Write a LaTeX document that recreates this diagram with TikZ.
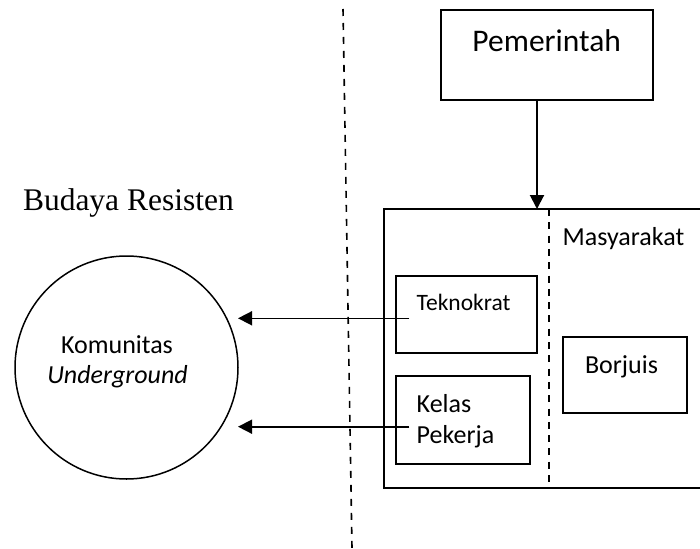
\documentclass[tikz,border=0pt]{standalone}
\usepackage{fontspec}
\setmainfont{Carlito}
\newfontfamily\serifface{Liberation Serif}
\usetikzlibrary{arrows.meta}

\begin{document}
\begin{tikzpicture}[x=1pt,y=-1pt,
  box/.style={draw, line width=2pt, rectangle, inner sep=0pt, outer sep=0pt},
  lbl/.style={inner sep=0pt, outer sep=0pt, anchor=base west},
  flow/.style={line width=1.6pt, -{Triangle[length=14pt,width=14pt]}},
  divider/.style={line width=1.6pt, dash pattern=on 7pt off 7pt},
  split/.style={line width=1.3pt, dash pattern=on 7pt off 6.3pt}]
  \useasboundingbox (0,0) rectangle (700,548);
  \clip (0,0) rectangle (700,548);

  % dashed boundary between the two sides
  \coordinate (div-top) at (343,9);
  \coordinate (div-bot) at (352,548);
  \draw[divider] (div-top) -- (div-bot);

  % left side
  \node[lbl, font=\serifface\fontsize{31.5}{36}\selectfont] (budaya) at (23,210.7) {Budaya Resisten};
  \node[draw, circle, line width=1.5pt, minimum size=223pt, inner sep=0pt, outer sep=0pt] (kom) at (126.5,367.5) {};
  \node[lbl, anchor=base, font=\fontsize{26}{30}\selectfont] (kom-a) at (117,353) {Komunitas};
  \node[lbl, anchor=base, font=\fontsize{26}{30}\selectfont\itshape] (kom-b) at (117.5,383) {Underground};

  % government
  \node[box, minimum width=212pt, minimum height=90pt] (pem) at (547,55) {};
  \node[lbl, anchor=base, font=\fontsize{31.5}{36}\selectfont] (pem-t) at (546.7,51.7) {Pemerintah};

  % society
  \node[box, minimum width=326pt, minimum height=279pt] (mas) at (547,348.5) {};
  \coordinate (split-top) at (549,209);
  \coordinate (split-bot) at (549,488);
  \draw[split] (split-top) -- (split-bot);
  \node[lbl, font=\fontsize{26}{30}\selectfont] (mas-t) at (562.7,245) {Masyarakat};

  \node[box, minimum width=141.3pt, minimum height=76.7pt] (tek) at (466.7,314.3) {};
  \node[lbl, font=\fontsize{23.5}{28}\selectfont] (tek-t) at (416.7,310) {Teknokrat};

  \node[box, minimum width=134pt, minimum height=88pt] (kp) at (463,420) {};
  \node[lbl, font=\fontsize{26}{30}\selectfont] (kp-a) at (416.7,412.7) {Kelas};
  \node[lbl, font=\fontsize{26}{30}\selectfont] (kp-b) at (416.7,443) {Pekerja};

  \node[box, minimum width=124pt, minimum height=76pt] (bor) at (625.3,374.7) {};
  \node[lbl, font=\fontsize{26}{30}\selectfont] (bor-t) at (585,373) {Borjuis};

  % connectors
  \coordinate (gov-out) at (537,100);
  \draw[flow, line width=2pt] (gov-out) -- (gov-out |- mas.north);

  \coordinate (tek-out) at (409.3,318.3);
  \draw[flow] (tek-out) -- (tek-out -| kom.east);

  \coordinate (kp-out) at (409.3,426.7);
  \draw[flow] (kp-out) -- (kp-out -| kom.east);
\end{tikzpicture}
\end{document}
